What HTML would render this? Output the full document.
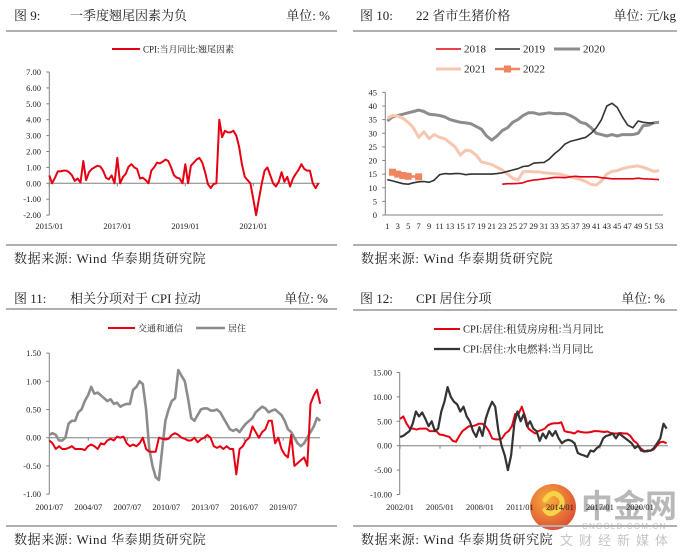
<!DOCTYPE html>
<html><head><meta charset="utf-8"><style>
html,body{margin:0;padding:0;background:#fff;}
svg{display:block;font-family:"Liberation Serif","Noto Serif CJK SC",serif;}
.t{font-size:13px;fill:#222;}
.f{font-size:13px;fill:#222;letter-spacing:0.6px;}
.tk{font-size:8.5px;fill:#222;}
.lg{font-size:9px;fill:#222;}
.lg2{font-size:11px;fill:#222;}
.lg4{font-size:10.5px;fill:#222;}
</style></head><body>
<svg id="s" width="687" height="558" viewBox="0 0 687 558" xmlns="http://www.w3.org/2000/svg">
<g>
<text class="t" x="14" y="20">图 9:</text>
<text class="t" x="70" y="20">一季度翘尾因素为负</text>
<text class="t" x="330" y="20" text-anchor="end">单位: %</text>
<rect x="6" y="30" width="331" height="2" fill="#b0b0b0"/>
</g>
<g>
<rect x="6" y="244" width="331" height="2" fill="#b0b0b0"/>
<text class="f" x="14" y="263">数据来源: Wind 华泰期货研究院</text>
</g>
<g>
<text class="t" x="360" y="20">图 10:</text>
<text class="t" x="416" y="20">22 省市生猪价格</text>
<text class="t" x="676" y="20" text-anchor="end">单位: 元/kg</text>
<rect x="353" y="30" width="324" height="2" fill="#b0b0b0"/>
</g>
<g>
<rect x="353" y="244" width="324" height="2" fill="#b0b0b0"/>
<text class="f" x="361" y="263">数据来源: Wind 华泰期货研究院</text>
</g>
<g>
<text class="t" x="14" y="303">图 11:</text>
<text class="t" x="70" y="303">相关分项对于 CPI 拉动</text>
<text class="t" x="328" y="303" text-anchor="end">单位: %</text>
<rect x="6" y="308" width="331" height="2" fill="#b0b0b0"/>
</g>
<g>
<rect x="6" y="525" width="331" height="2" fill="#b0b0b0"/>
<text class="f" x="14" y="544">数据来源: Wind 华泰期货研究院</text>
</g>
<g>
<text class="t" x="360" y="303">图 12:</text>
<text class="t" x="416" y="303">CPI 居住分项</text>
<text class="t" x="665" y="303" text-anchor="end">单位: %</text>
<rect x="353" y="309" width="324" height="2" fill="#b0b0b0"/>
</g>
<g>
<defs><radialGradient id="wg" cx="0.4" cy="0.35" r="0.7"><stop offset="0" stop-color="#f5a623"/><stop offset="1" stop-color="#d9381e"/></radialGradient></defs>
<circle cx="553" cy="507" r="23" fill="url(#wg)" opacity="0.9"/>
<path d="M545 500 q8 -12 16 -2 q4 8 -6 14 q-6 4 -10 -2" fill="none" stroke="#f7d34a" stroke-width="5" stroke-linecap="round"/>
<text x="581" y="517" font-size="32" fill="#b8b8b8" font-family="Noto Sans CJK SC, sans-serif" font-weight="bold">中金网</text>
<text x="582" y="529" font-size="8" fill="#c0c0c0" font-family="Liberation Sans, sans-serif" letter-spacing="1.2">CNGOLD.COM.CN</text>
</g>
<g>
<rect x="353" y="525" width="324" height="2" fill="#b0b0b0"/>
<text class="f" x="361" y="544">数据来源: Wind 华泰期货研究院</text>
<text x="560" y="545" font-size="13" fill="#c4c4c4" font-family="Noto Sans CJK SC, sans-serif" letter-spacing="6">文财经新媒体</text>
</g>
<g id="charts"></g>
</svg>
<script>
const p1Ticks=[7,6,5,4,3,2,1,0,-1,-2];
const p1XLabels=["2015/01","2017/01","2019/01","2021/01"];
const p1Values=[0.5,0.0,0.35,0.75,0.75,0.8,0.8,0.7,0.5,0.15,0.3,0.05,
1.4,0.2,0.7,0.9,1.0,1.1,1.05,0.8,0.35,0.25,0.5,0.0,
1.6,0.0,0.4,0.6,1.05,1.2,1.0,0.9,0.3,0.35,0.2,0.0,
0.8,1.0,1.3,1.25,1.35,1.5,1.4,1.0,0.5,0.35,0.3,0.0,
1.2,0.0,1.1,1.3,1.5,1.6,1.3,0.7,-0.05,-0.3,-0.05,0.0,
4.0,2.9,3.3,3.2,3.2,3.3,3.0,2.3,1.2,0.4,0.2,0.0,
-1.0,-2.0,-1.0,0.0,0.8,1.0,0.5,0.0,-0.2,0.1,0.7,0.1,
0.4,-0.2,0.3,0.6,0.85,1.2,0.9,0.8,0.8,0.0,-0.3,0.0];
const p2Ticks=[45,40,35,30,25,20,15,10,5,0];
const p2Start2018=23;
const p2_2018=[11.3,11.5,11.5,11.6,11.8,12.5,12.8,13,13.3,13.5,13.8,13.8,13.7,14,14.2,14,14,14,14,13.7,13.5,13.3,13.3,13.3,13.3,13.3,13.5,13.3,13.2,13.1,13];
const p2_2019=[13,12.5,12,11.5,11.3,11.8,12.2,12.3,12,12.8,14.8,15.2,15.1,15.2,15.2,14.8,15,15,15,15,15,15.2,15.5,16,16.5,17,17.8,18,19,19.2,19.3,20.5,22.5,24,26,27,27.5,28,28.5,30,32,35,40,41,39.5,36,33,32,34.5,34,33.8,33.8];
const p2_2020=[34.5,36,36.5,37,37.5,38,38.5,38,37,36.8,36.5,36,35,34.5,34,33.8,33.5,32.5,31.5,29,27.5,29,31,32,34,35,36.5,37.5,37.5,37,37.2,37.5,37.2,37.2,37.2,36.5,35.5,34,33.5,32,30,29.5,29,29.5,29,29.5,29.5,29.5,30,32.8,33,33.8,34];
const p2_2021=[35.5,36.5,36.3,35.5,34,32,28.5,30.5,28,29.5,28.5,28,26.5,25,22,23.8,23.5,22,19.5,19,18.5,17.5,16.5,15,13.5,12.8,15.8,16,15.8,15.8,15.5,15.3,15.2,15,14.5,14,13.5,13,12.3,11.2,11,12.5,15,16,16.3,17,17.5,17.8,18,17.5,16.8,16,16.3];
const p2_2022Weeks=[2,3,4,5,7];
const p2_2022=[15.7,15,14.5,14.2,14];
const p3Ticks=[1.5,1.0,0.5,0,-0.5,-1.0];
const p3XLabels=["2001/07","2004/07","2007/07","2010/07","2013/07","2016/07","2019/07"];
const p3Housing=[0.05,0.08,0.05,-0.05,-0.05,0,0.25,0.3,0.3,0.45,0.5,0.65,0.75,0.9,0.78,0.8,0.75,0.7,0.65,0.68,0.6,0.62,0.55,0.58,0.6,0.6,0.85,0.9,1.0,0.95,0.5,-0.2,-0.5,-0.7,-0.75,-0.2,0.3,0.5,0.65,0.7,1.2,1.1,1.0,0.7,0.35,0.3,0.4,0.5,0.52,0.52,0.48,0.48,0.5,0.45,0.35,0.25,0.15,0.12,0.15,0.1,0.18,0.25,0.3,0.35,0.45,0.5,0.55,0.52,0.45,0.48,0.5,0.45,0.4,0.3,0.15,0.1,0,-0.1,-0.15,-0.1,0,0.1,0.2,0.35,0.3];
const p3Transport=[-0.05,-0.1,-0.2,-0.15,-0.2,-0.2,-0.18,-0.15,-0.2,-0.2,-0.2,-0.22,-0.15,-0.12,-0.15,-0.2,-0.1,-0.12,-0.05,-0.02,-0.05,0.02,0,0.02,-0.1,-0.15,-0.12,-0.15,-0.1,0,-0.2,-0.25,-0.25,-0.25,0,-0.02,-0.03,-0.02,0.05,0.08,0.05,0,-0.02,-0.05,-0.05,0,-0.08,-0.03,0,0.05,0,-0.15,-0.18,-0.15,-0.2,-0.15,-0.2,-0.2,-0.65,-0.2,-0.15,-0.05,0,0.2,0.1,0,0.1,0.15,0.3,0.3,-0.1,0,-0.2,-0.3,-0.35,0.05,-0.5,-0.45,-0.4,-0.35,-0.5,0.6,0.75,0.85,0.6];
const p4Ticks=[15,10,5,0,-5,-10];
const p4XLabels=["2002/01","2005/01","2008/01","2011/01","2014/01","2017/01","2020/01"];
const p4Rent=[5.5,6.0,4.5,3.5,3.5,3.3,3.5,3.5,3.5,3.0,3.0,3.0,2.3,2.2,2.0,1.8,1.0,0.8,2.0,3.0,3.5,4.0,4.0,4.2,4.5,4.5,4.0,3.0,1.5,1.3,1.3,1.5,2.5,3.0,4.0,6.5,6.5,8.0,6.0,3.5,3.0,2.5,3.0,3.2,3.5,4.2,4.5,4.6,4.6,4.8,3.0,2.8,2.7,2.5,3.0,2.8,2.7,2.7,2.8,3.0,3.0,2.9,2.8,2.9,2.6,2.5,2.5,2.6,2.5,2.5,2.0,1.0,0.5,-0.5,-1.0,-1.2,-1.0,-0.8,0.0,0.7,0.8,0.5];
const p4Utility=[1.8,2.0,2.5,3.0,4.5,7.0,6.0,6.8,5.5,4.0,5.0,3.0,3.5,7.0,9.0,12.0,10.0,9.0,8.5,7.0,8.0,6.0,5.0,3.0,1.8,3.8,2.0,5.5,7.5,9.0,8.0,3.0,0.0,-2.0,-5.0,-2.0,4.5,7.0,5.0,6.5,4.0,5.0,3.5,3.0,1.0,2.5,1.5,3.0,2.0,3.0,1.5,0.5,1.0,1.2,1.0,0.5,-1.5,-1.8,-2.0,-2.3,-1.0,-1.2,-0.5,0.0,1.5,2.0,2.2,2.5,1.5,2.5,2.0,1.5,1.0,0.5,-0.5,0.0,-1.0,-1.2,-1.0,-1.0,-0.5,0.5,1.5,4.5,3.5];

const NS="http://www.w3.org/2000/svg";
const root=document.getElementById('charts');
function mk(tag,attrs,parent){const e=document.createElementNS(NS,tag);for(const k in attrs)e.setAttribute(k,attrs[k]);(parent||root).appendChild(e);return e;}
function line(pts,color,w,name){
  const e=mk('polyline',{points:pts.map(p=>p[0].toFixed(1)+','+p[1].toFixed(1)).join(' '),fill:'none',stroke:color,'stroke-width':w,'stroke-linejoin':'round'});
  
  
  return e;
}
function txt(x,y,s,cls,anchor,name){
  const e=mk('text',{x:x,y:y,class:cls,'text-anchor':anchor||'start'});e.textContent=s;
  
  
  return e;
}
function legend(x1,x2,y,color,w,label,name,cls){
  const l=mk('line',{x1:x1,x2:x2,y1:y,y2:y,stroke:color,'stroke-width':w});
  
  
  txt(x2+3,y+3.5,label,cls||'lg','start',name);
}
function yAxis(x,yTop,yBot,ticks,yf,fmt,labelX,name){
  const a=mk('line',{x1:x,x2:x,y1:yTop,y2:yBot,stroke:'#808080','stroke-width':1});
  
  
  ticks.forEach(t=>{mk('line',{x1:x-3,x2:x,y1:yf(t),y2:yf(t),stroke:'#808080','stroke-width':1});
    txt(labelX,yf(t)+3,fmt(t),'tk','end','y-tick-label');});
}

(function(){
  const x0=49.3,dx=2.833,yz=183.3,ky=15.9;
  const xf=i=>x0+i*dx, yf=v=>yz-v*ky;
  yAxis(x0,yf(7),yf(-2),p1Ticks,yf,t=>t.toFixed(2),41,'fig9-y-axis');
  const ax=mk('line',{x1:x0,x2:320,y1:yz,y2:yz,stroke:'#808080','stroke-width':1});
  
  
  p1XLabels.forEach((s,k)=>{const x=xf(k*24);mk('line',{x1:x,x2:x,y1:yz,y2:yz+3,stroke:'#808080'});txt(x,229,s,'tk','middle','x-tick-label');});
  line(p1Values.map((v,i)=>[xf(i),yf(v)]),'#e60012',2,'fig9-cpi-carryover-line');
  legend(112,140,49,'#e60012',2,'CPI:当月同比:翘尾因素','fig9-legend-entry','lg');
})();

(function(){
  const x0=387.3,dx=5.225,yz=215,ky=2.725;
  const xf=w=>x0+(w-1)*dx, yf=v=>yz-v*ky;
  yAxis(385.3,yf(45),yz,p2Ticks,yf,t=>String(t),377,'fig10-y-axis');
  const ax=mk('line',{x1:385.3,x2:663,y1:yz,y2:yz,stroke:'#808080','stroke-width':1});
  
  
  for(let w=1;w<=53;w+=2) txt(xf(w),229,String(w),'tk','middle','x-tick-label');
  line(p2_2020.map((v,i)=>[xf(i+1),yf(v)]),'#8c8c8c',3,'fig10-line-2020');
  line(p2_2021.map((v,i)=>[xf(i+1),yf(v)]),'#f7c6b1',3,'fig10-line-2021');
  line(p2_2019.map((v,i)=>[xf(i+1),yf(v)]),'#333333',1.6,'fig10-line-2019');
  line(p2_2018.map((v,i)=>[xf(i+p2Start2018),yf(v)]),'#e60012',1.6,'fig10-line-2018');
  line(p2_2022.map((v,i)=>[xf(p2_2022Weeks[i]),yf(v)]),'#f0865f',2.5,'fig10-line-2022');
  p2_2022.forEach((v,i)=>{const r=mk('rect',{x:xf(p2_2022Weeks[i])-3.5,y:yf(v)-3.5,width:7,height:7,fill:'#f0865f'});
    
    });
  legend(436,461,49,'#e60012',1.6,'2018','legend-2018','lg2');
  legend(495,520,49,'#333333',1.6,'2019','legend-2019','lg2');
  legend(554,580,49,'#8c8c8c',3,'2020','legend-2020','lg2');
  legend(436,461,69,'#f7c6b1',3,'2021','legend-2021','lg2');
  legend(495,520,69,'#f0865f',2.5,'2022','legend-2022','lg2');
  mk('rect',{x:504,y:65.5,width:7,height:7,fill:'#f0865f'});
})();

(function(){
  const x0=49.3,dm=1.075,yz=437.7,ky=56.4;
  const xf=q=>x0+q*3*dm, yf=v=>yz-v*ky;
  yAxis(x0,yf(1.5),yf(-1),p3Ticks,yf,t=>t.toFixed(2),41,'fig11-y-axis');
  const ax=mk('line',{x1:x0,x2:320,y1:yz,y2:yz,stroke:'#808080','stroke-width':1});
  
  
  p3XLabels.forEach((s,k)=>{const x=x0+k*36*1.083;mk('line',{x1:x,x2:x,y1:yz,y2:yz+3,stroke:'#808080'});txt(x,510,s,'tk','middle','x-tick-label');});
  line(p3Housing.map((v,i)=>[xf(i),yf(v)]),'#8c8c8c',2.6,'fig11-housing-line');
  line(p3Transport.map((v,i)=>[xf(i),yf(v)]),'#e60012',2,'fig11-transport-line');
  legend(108,135,328,'#e60012',2,'交通和通信','fig11-legend-transport','lg');
  legend(196,225,328,'#8c8c8c',2.6,'居住','fig11-legend-housing','lg');
})();

(function(){
  const x0=400,dm=1.111,yz=445.7,ky=4.88,span=240;
  const yf=v=>yz-v*ky;
  const xfr=(i,n)=>x0+(i*span/(n-1))*dm;
  yAxis(399.7,yf(15),yf(-10),p4Ticks,yf,t=>t.toFixed(2),392,'fig12-y-axis');
  const ax=mk('line',{x1:399.7,x2:668,y1:yz,y2:yz,stroke:'#808080','stroke-width':1});
  
  
  p4XLabels.forEach((s,k)=>{const x=x0+k*36*dm;mk('line',{x1:x,x2:x,y1:yz,y2:yz+3,stroke:'#808080'});txt(x,510,s,'tk','middle','x-tick-label');});
  line(p4Rent.map((v,i)=>[xfr(i,p4Rent.length),yf(v)]),'#e60012',2,'fig12-rent-line');
  line(p4Utility.map((v,i)=>[xfr(i,p4Utility.length),yf(v)]),'#333333',2.2,'fig12-utility-line');
  legend(434,460,329,'#e60012',2,'CPI:居住:租赁房房租:当月同比','fig12-legend-rent','lg4');
  legend(434,460,349,'#333333',2.2,'CPI:居住:水电燃料:当月同比','fig12-legend-utility','lg4');
})();
</script>
</body></html>
